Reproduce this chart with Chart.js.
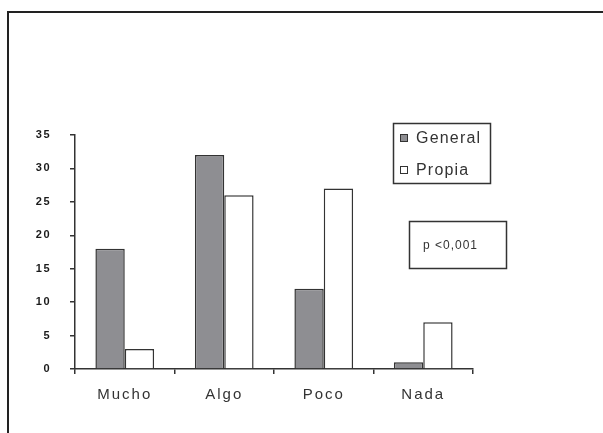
<!DOCTYPE html>
<html>
<head>
<meta charset="utf-8">
<script src="https://cdn.jsdelivr.net/npm/chart.js@4/dist/chart.umd.min.js"></script>
<style>
  html, body { margin: 0; padding: 0; background: #fff; }
  canvas { display: block; }
</style>
</head>
<body>
<canvas id="c" width="603" height="433"></canvas>
<script>
// Categories and series values
const categories = ['Mucho', 'Algo', 'Poco', 'Nada'];
const generalValues = [18, 32, 12, 1];
const propiaValues = [3, 26, 27, 7];
const seriesNames = ['General', 'Propia'];
const yMax = 35;
const yStep = 5;
const pLabel = 'p <0,001';

const INK = '#333333';
const FONT = "'Liberation Sans', Arial, sans-serif";

// Per-scale letter spacing for tick labels
const spacingPlugin = {
  id: 'labelSpacing',
  afterLayout(chart) {
    Object.values(chart.scales).forEach(scale => {
      if (scale._spacedLabels) return;
      const orig = scale.drawLabels;
      const spacing = scale.axis === 'y' ? '1.5px' : '2px';
      scale.drawLabels = function (area) {
        const ctx = this.ctx;
        ctx.save();
        ctx.letterSpacing = spacing;
        orig.call(this, area);
        ctx.restore();
      };
      scale._spacedLabels = true;
    });
  }
};

// Outer frame, legend box and p-value box
const decorPlugin = {
  id: 'decor',
  afterDraw(chart) {
    const ctx = chart.ctx;
    ctx.save();

    // frame lines (top and left)
    ctx.strokeStyle = '#222';
    ctx.lineWidth = 2;
    ctx.beginPath();
    ctx.moveTo(8, 433);
    ctx.lineTo(8, 12);
    ctx.lineTo(603, 12);
    ctx.stroke();

    // legend
    const lx = 393, ly = 123, lw = 97, lh = 60;
    ctx.lineWidth = 1.5;
    ctx.strokeStyle = INK;
    ctx.fillStyle = '#fff';
    ctx.fillRect(lx, ly, lw, lh);
    ctx.strokeRect(lx + 0.5, ly + 0.5, lw, lh);
    ctx.font = '16px ' + FONT;
    ctx.letterSpacing = '1.2px';
    ctx.textBaseline = 'middle';
    ctx.textAlign = 'left';
    chart.data.datasets.forEach((ds, i) => {
      const cy = ly + 15 + i * 32;
      ctx.fillStyle = ds.backgroundColor;
      ctx.fillRect(400, cy - 4, 8, 8);
      ctx.lineWidth = 1;
      ctx.strokeStyle = INK;
      ctx.strokeRect(400.5, cy - 3.5, 7, 7);
      ctx.fillStyle = INK;
      ctx.fillText(ds.label, 416, cy + 1);
    });

    // p-value box
    const px = 409, py = 221, pw = 97, ph = 47;
    ctx.lineWidth = 1.5;
    ctx.strokeStyle = INK;
    ctx.strokeRect(px + 0.5, py + 0.5, pw, ph);
    ctx.font = '12px ' + FONT;
    ctx.letterSpacing = '1px';
    ctx.fillStyle = INK;
    ctx.textAlign = 'left';
    ctx.fillText(pLabel, 423, py + ph / 2 + 1);

    ctx.restore();
  }
};

new Chart(document.getElementById('c'), {
  type: 'bar',
  data: {
    labels: categories,
    datasets: [
      {
        label: seriesNames[0],
        data: generalValues,
        backgroundColor: '#8e8e92',
        borderColor: INK,
        borderWidth: 1.5
      },
      {
        label: seriesNames[1],
        data: propiaValues,
        backgroundColor: '#ffffff',
        borderColor: INK,
        borderWidth: 1.5
      }
    ]
  },
  options: {
    responsive: false,
    animation: false,
    devicePixelRatio: 1,
    layout: { padding: { left: 8, top: 135, right: 130, bottom: 0 } },
    categoryPercentage: 0.59,
    barPercentage: 1,
    plugins: {
      legend: { display: false },
      tooltip: { enabled: false },
      title: { display: false }
    },
    scales: {
      x: {
        grid: {
          offset: true,
          drawOnChartArea: false,
          drawTicks: true,
          tickLength: 5,
          color: INK,
          lineWidth: 1.5
        },
        border: { display: true, color: INK, width: 1.5 },
        ticks: {
          color: INK,
          padding: 12,
          font: { family: FONT, size: 15 }
        },
        afterFit(scale) { scale.height = 64; }
      },
      y: {
        min: 0,
        max: yMax,
        grid: {
          drawOnChartArea: false,
          drawTicks: true,
          tickLength: 5,
          color: INK,
          lineWidth: 1.5
        },
        border: { display: true, color: INK, width: 1.5 },
        ticks: {
          stepSize: yStep,
          color: '#1a1a1a',
          padding: 19,
          font: { family: "'Liberation Sans Narrow', " + FONT, size: 11, weight: 'bold' }
        },
        afterFit(scale) { scale.width = 75 - 8; }
      }
    }
  },
  plugins: [spacingPlugin, decorPlugin]
});
</script>
</body>
</html>
